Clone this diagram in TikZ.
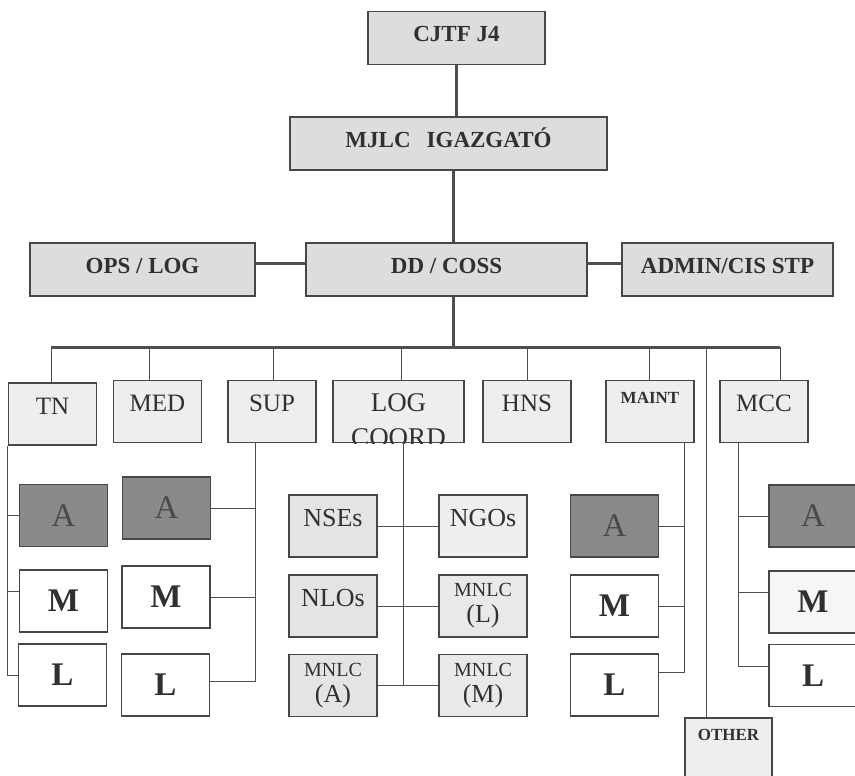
\documentclass[tikz,border=0pt]{standalone}
\usepackage{fontspec}
\setmainfont{Liberation Serif}

\definecolor{boxline}{HTML}{474747}
\definecolor{linegray}{HTML}{4F4F4F}
\definecolor{inkgray}{HTML}{303030}
\definecolor{topfill}{HTML}{DDDDDD}
\definecolor{unitfill}{HTML}{EEEEEE}
\definecolor{darkfill}{HTML}{8A8A8A}
\definecolor{darkink}{HTML}{4A4A4A}
\definecolor{agfill}{HTML}{E4E4E4}
\definecolor{paleagfill}{HTML}{EFEFEF}

\begin{document}
\begin{tikzpicture}[
% first : the style of the chart
    x=1pt, y=-1pt,
    box/.style={
        draw=boxline,
        line width=1.2pt,
        text=inkgray,
        inner sep=0pt
    },
    chief/.style={
        box,
        fill=topfill,
        minimum height=53pt,
        font=\bfseries\fontsize{23}{26}\selectfont,
        text height=15pt,
        text depth=7pt
    },
    unit/.style={
        box,
        fill=unitfill,
        minimum width=88pt,
        minimum height=62pt,
        font=\fontsize{25}{28}\selectfont,
        text height=20pt,
        text depth=20pt
    },
    tag/.style={
        unit,
        font=\bfseries\fontsize{17}{20}\selectfont,
        text height=12pt,
        text depth=29pt
    },
    cell/.style={
        box,
        minimum width=88pt,
        minimum height=62pt
    },
    darkcell/.style={cell, fill=darkfill, text=darkink, font=\fontsize{33}{36}\selectfont},
    lettercell/.style={cell, fill=white, font=\bfseries\fontsize{33}{36}\selectfont},
    agency/.style={cell, fill=agfill, font=\fontsize{26}{28}\selectfont, text height=18pt, text depth=18pt},
    mnlc/.style={cell, fill=agfill, align=center, font=\fontsize{26}{26}\selectfont},
    trunk/.style={draw=linegray, line width=3pt},
    branch/.style={draw=linegray, line width=1pt}
]
\useasboundingbox (0,0) rectangle (855,776);

% command levels
\node[chief, minimum width=177pt] (cjtf) at (456.5,38) {CJTF J4};
\node[chief, minimum width=317pt] (mjlc) at (448.5,143.5) {MJLC\hspace{0.7em}IGAZGATÓ};
\node[chief, minimum width=281pt] (dd) at (446.5,269.5) {DD / COSS};
\node[chief, minimum width=225pt] (ops) at (142.5,269.5) {OPS / LOG};
\node[chief, minimum width=211pt] (admin) at (727.5,269.5) {ADMIN/CIS STP};

% branches
\node[unit] (tn) at (52.5,414) {TN};
\node[unit] (med) at (157.5,411.5) {MED};
\node[unit] (sup) at (272,411.5) {SUP};
\node[unit, minimum width=131pt, font=\fontsize{27}{30}\selectfont] (log) at (398.5,411.5) {LOG};
\begin{scope}
    \clip (log.south west) rectangle (log.north east);
    \node[anchor=base, text=inkgray, font=\fontsize{27}{30}\selectfont] (coord) at ([yshift=-34.5pt]log.base) {COORD};
\end{scope}
\node[unit] (hns) at (527,411.5) {HNS};
\node[tag] (maint) at (650,411.5) {MAINT};
\node[unit] (mcc) at (764,411.5) {MCC};
\node[tag, minimum width=87pt] (other) at (728.5,749) {OTHER};

% TN column
\node[darkcell] (a1) at (63.5,515.5) {A};
\node[lettercell] (m1) at (63.5,601) {M};
\node[lettercell] (l1) at (62.5,675) {L};

% SUP column
\node[darkcell] (a2) at (166.5,508) {A};
\node[lettercell] (m2) at (166,597) {M};
\node[lettercell] (l2) at (165.5,685) {L};

% LOG COORD column
\node[agency] (nses) at (333,526) {NSEs};
\node[agency, fill=paleagfill] (ngos) at (483,526) {NGOs};
\node[agency] (nlos) at (333,606) {NLOs};
\node[mnlc, fill=agfill!80!white] (mnlcl) at (483,606) {{\fontsize{20}{20}\selectfont MNLC}\\(L)};
\node[mnlc] (mnlca) at (333,685.5) {{\fontsize{20}{20}\selectfont MNLC}\\(A)};
\node[mnlc, fill=agfill!80!white] (mnlcm) at (483,685.5) {{\fontsize{20}{20}\selectfont MNLC}\\(M)};

% MAINT column
\node[darkcell] (a3) at (614.5,526) {A};
\node[lettercell] (m3) at (614.5,606) {M};
\node[lettercell] (l3) at (614.5,685) {L};

% MCC column
\node[darkcell] (a4) at (813,516) {A};
\node[lettercell, fill=unitfill!50!white] (m4) at (813,602) {M};
\node[lettercell] (l4) at (813,675.5) {L};

% links : top
\draw[trunk] (cjtf.south) -- (cjtf.south |- mjlc.north);
\coordinate (mjlcT) at ([xshift=4.5pt]mjlc.south);
\draw[trunk] (mjlcT) -- (mjlcT |- dd.north);
\draw[trunk] ([yshift=6pt]ops.east) -- ([yshift=6pt]dd.west);
\draw[trunk] ([yshift=6pt]dd.east) -- ([yshift=6pt]admin.west);
\coordinate (busL) at (51,347);
\coordinate (busR) at (780,347);
\coordinate (ddT) at ([xshift=6.5pt]dd.south);
\draw[trunk] (ddT) -- (ddT |- busL);
\draw[trunk] (busL) -- (busR);

% links : drops
\foreach \n/\s in {tn/-1.5, med/-8.5, sup/1, log/2.5, hns/0, maint/-1, mcc/16, other/-22.5}
    \draw[branch] ([xshift=\s pt]\n.north) -- ([xshift=\s pt]\n.north |- busL);

% links : TN
\coordinate (tnT) at (tn.south west);
\draw[branch] (tnT) |- (l1.west);
\draw[branch] (tnT |- a1.west) -- (a1.west);
\coordinate (m1tap) at ([yshift=10pt]m1.west);
\draw[branch] (tnT |- m1tap) -- (m1tap);

% links : SUP
\coordinate (supT) at ([xshift=-17pt]sup.south);
\draw[branch] (supT) |- ([yshift=4pt]l2.east);
\draw[branch] (supT |- a2.east) -- (a2.east);
\draw[branch] (supT |- m2.east) -- (m2.east);

% links : LOG COORD
\coordinate (logT) at ([xshift=4.5pt]log.south);
\draw[branch] (logT) -- (logT |- mnlcm.west);
\draw[branch] (nses) -- (ngos);
\draw[branch] (nlos) -- (mnlcl);
\draw[branch] (mnlca) -- (mnlcm);

% links : MAINT
\coordinate (maintT) at ([xshift=34pt]maint.south);
\coordinate (l3tap) at ([yshift=13pt]l3.east);
\draw[branch] (maintT) |- (l3tap);
\draw[branch] (maintT |- a3.east) -- (a3.east);
\draw[branch] (maintT |- m3.east) -- (m3.east);

% links : MCC
\coordinate (mccT) at ([xshift=-26pt]mcc.south);
\coordinate (l4tap) at ([yshift=9.5pt]l4.west);
\coordinate (m4tap) at ([yshift=10pt]m4.west);
\draw[branch] (mccT) |- (l4tap);
\draw[branch] (mccT |- a4.west) -- (a4.west);
\draw[branch] (mccT |- m4tap) -- (m4tap);

\end{tikzpicture}
\end{document}
